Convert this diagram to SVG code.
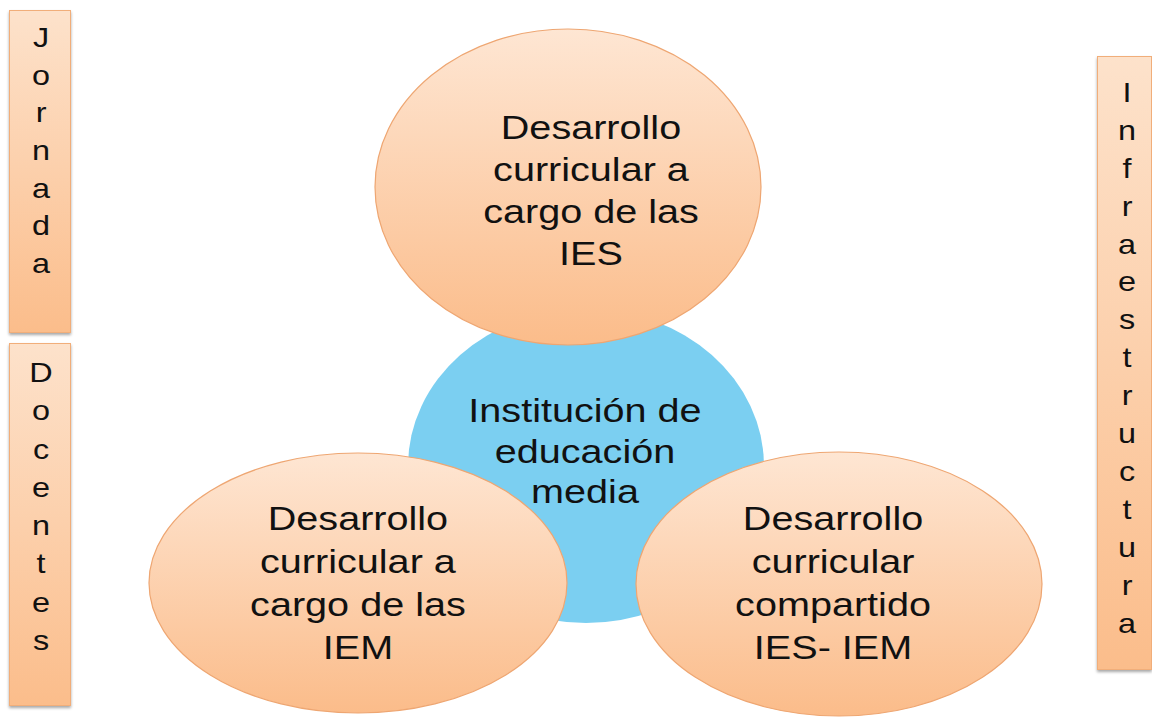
<svg xmlns="http://www.w3.org/2000/svg" width="1152" height="719" viewBox="0 0 1152 719">
<defs>
<linearGradient id="og" x1="0" y1="0" x2="0" y2="1">
<stop offset="0" stop-color="#fee6d3"/>
<stop offset="1" stop-color="#fbbc8a"/>
</linearGradient>
<linearGradient id="bg" x1="0" y1="0" x2="0" y2="1">
<stop offset="0" stop-color="#fde2cb"/>
<stop offset="1" stop-color="#fbbd8b"/>
</linearGradient>
<filter id="sh" x="-20%" y="-10%" width="140%" height="120%">
<feGaussianBlur in="SourceAlpha" stdDeviation="1.5"/>
<feOffset dx="0" dy="2" result="b"/>
<feComponentTransfer><feFuncA type="linear" slope="0.35"/></feComponentTransfer>
<feMerge><feMergeNode/><feMergeNode in="SourceGraphic"/></feMerge>
</filter>
</defs>
<style>
.box{fill:url(#bg);stroke:#f1ae7a;stroke-width:1}
.ell{fill:url(#og);stroke:#eea672;stroke-width:1.2}
.blue{fill:#7bcff1}
.t{font-family:"Liberation Sans",Arial,sans-serif;font-size:33px;fill:#111;text-anchor:middle}
.v{font-family:"Liberation Sans",Arial,sans-serif;font-size:27px;fill:#111;text-anchor:middle}
</style>
<rect width="1152" height="719" fill="#ffffff"/>
<g id="connectors"/>

<g id="jornada">
<rect class="box" x="9.5" y="10.5" width="61" height="322" filter="url(#sh)"/>
<g transform="scale(1.2 1)">
<text class="v" x="34.2" y="47">J</text>
<text class="v" x="34.2" y="84.7">o</text>
<text class="v" x="34.2" y="122.4">r</text>
<text class="v" x="34.2" y="160.1">n</text>
<text class="v" x="34.2" y="197.8">a</text>
<text class="v" x="34.2" y="235.5">d</text>
<text class="v" x="34.2" y="273.2">a</text>
</g>
</g>

<g id="docentes">
<rect class="box" x="9.5" y="343.5" width="61" height="362" filter="url(#sh)"/>
<g transform="scale(1.2 1)">
<text class="v" x="34.2" y="382">D</text>
<text class="v" x="34.2" y="420.3">o</text>
<text class="v" x="34.2" y="458.6">c</text>
<text class="v" x="34.2" y="496.9">e</text>
<text class="v" x="34.2" y="535.2">n</text>
<text class="v" x="34.2" y="573.5">t</text>
<text class="v" x="34.2" y="611.8">e</text>
<text class="v" x="34.2" y="650.1">s</text>
</g>
</g>

<g id="infraestructura">
<rect class="box" x="1097.5" y="56.5" width="54" height="613" filter="url(#sh)"/>
<g transform="scale(1.2 1)">
<text class="v" x="939.2" y="102">I</text>
<text class="v" x="939.2" y="139.9">n</text>
<text class="v" x="939.2" y="177.8">f</text>
<text class="v" x="939.2" y="215.7">r</text>
<text class="v" x="939.2" y="253.6">a</text>
<text class="v" x="939.2" y="291.5">e</text>
<text class="v" x="939.2" y="329.4">s</text>
<text class="v" x="939.2" y="367.3">t</text>
<text class="v" x="939.2" y="405.2">r</text>
<text class="v" x="939.2" y="443.1">u</text>
<text class="v" x="939.2" y="481">c</text>
<text class="v" x="939.2" y="518.9">t</text>
<text class="v" x="939.2" y="556.8">u</text>
<text class="v" x="939.2" y="594.7">r</text>
<text class="v" x="939.2" y="632.6">a</text>
</g>
</g>

<g id="institucion">
<ellipse class="blue" cx="586" cy="466" rx="178" ry="157"/>
</g>

<g id="ies">
<ellipse class="ell" cx="568" cy="187" rx="193" ry="158"/>
<g transform="scale(1.2 1)">
<text class="t" x="492.5" y="139">Desarrollo</text>
<text class="t" x="492.5" y="181">curricular a</text>
<text class="t" x="492.5" y="223">cargo de las</text>
<text class="t" x="492.5" y="265">IES</text>
</g>
</g>

<g id="iem">
<ellipse class="ell" cx="358" cy="583" rx="209" ry="130"/>
<g transform="scale(1.2 1)">
<text class="t" x="298.3" y="530">Desarrollo</text>
<text class="t" x="298.3" y="573">curricular a</text>
<text class="t" x="298.3" y="616">cargo de las</text>
<text class="t" x="298.3" y="659">IEM</text>
</g>
</g>

<g id="compartido">
<ellipse class="ell" cx="839" cy="584" rx="203" ry="132"/>
<g transform="scale(1.2 1)">
<text class="t" x="694.2" y="530">Desarrollo</text>
<text class="t" x="694.2" y="573">curricular</text>
<text class="t" x="694.2" y="616">compartido</text>
<text class="t" x="694.2" y="659">IES- IEM</text>
</g>
</g>

<g id="institucion-label" transform="scale(1.2 1)">
<text class="t" x="487.5" y="422">Institución de</text>
<text class="t" x="487.5" y="463">educación</text>
<text class="t" x="487.5" y="503">media</text>
</g>
</svg>
